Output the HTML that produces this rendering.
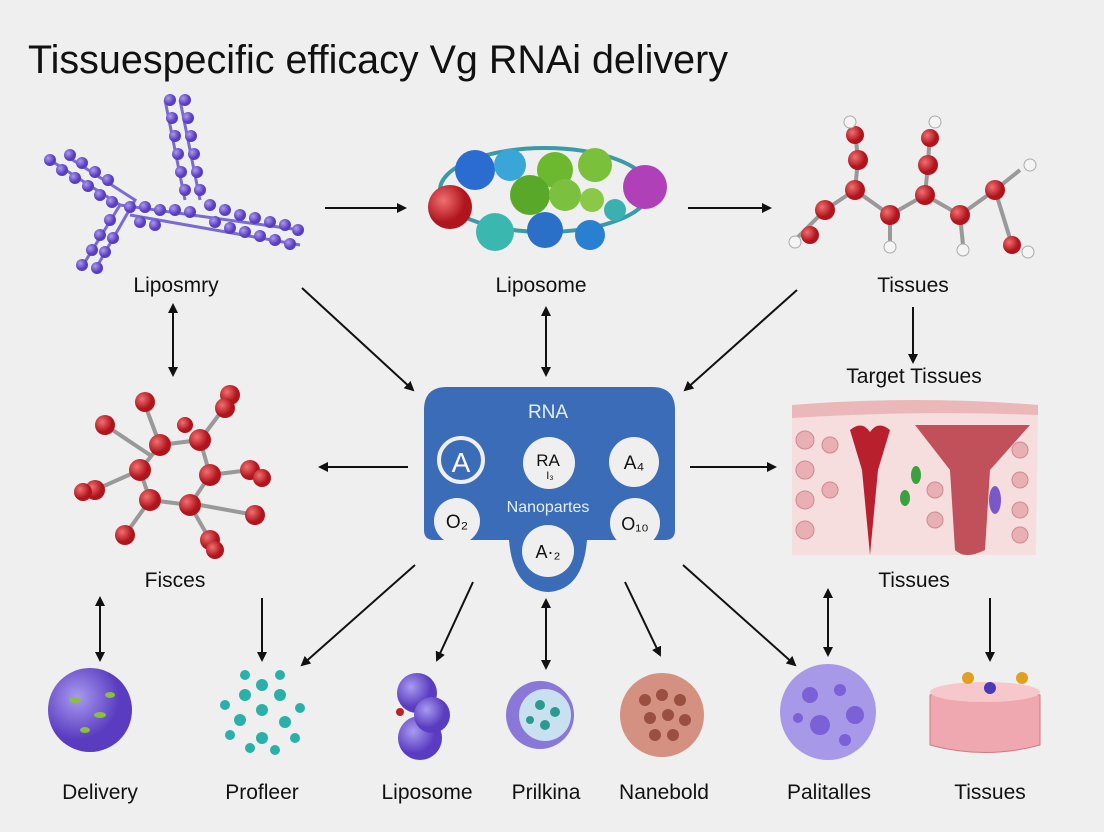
<!DOCTYPE html>
<html><head><style>
html,body{margin:0;padding:0;background:#efefef;}
svg{display:block;font-family:"Liberation Sans",sans-serif;}
</style></head><body>
<svg width="1104" height="832" viewBox="0 0 1104 832" xmlns="http://www.w3.org/2000/svg">
<defs>
<marker id="a" markerWidth="10" markerHeight="10" refX="8" refY="5" orient="auto" markerUnits="userSpaceOnUse"><path d="M0,0 L10,5 L0,10 z" fill="#111"/></marker>
<marker id="s" markerWidth="10" markerHeight="10" refX="2" refY="5" orient="auto" markerUnits="userSpaceOnUse"><path d="M10,0 L0,5 L10,10 z" fill="#111"/></marker>
<radialGradient id="rd" cx="35%" cy="35%"><stop offset="0" stop-color="#f07070"/><stop offset="1" stop-color="#b0141c"/></radialGradient>
<radialGradient id="pu" cx="35%" cy="35%"><stop offset="0" stop-color="#a99af0"/><stop offset="1" stop-color="#5a3cc0"/></radialGradient>
</defs>
<rect width="1104" height="832" fill="#efefef"/>
<text x="28" y="73" font-size="40" fill="#111" textLength="700" lengthAdjust="spacingAndGlyphs">Tissuespecific efficacy Vg RNAi delivery</text>

<!-- top-left purple chain -->
<g fill="url(#pu)">
<g stroke="#7b6ad0" stroke-width="3" fill="none">
<path d="M50,160 L120,205 L80,270"/><path d="M65,155 L135,200 L95,270"/>
<path d="M120,205 L300,230"/><path d="M130,215 L300,245"/>
<path d="M165,100 L185,200"/><path d="M180,100 L200,200"/>
</g>
<circle cx="50" cy="160" r="6"/><circle cx="62" cy="170" r="6"/><circle cx="75" cy="178" r="6"/><circle cx="88" cy="186" r="6"/><circle cx="100" cy="195" r="6"/><circle cx="112" cy="202" r="6"/>
<circle cx="70" cy="155" r="6"/><circle cx="82" cy="163" r="6"/><circle cx="95" cy="172" r="6"/><circle cx="108" cy="180" r="6"/>
<circle cx="110" cy="220" r="6"/><circle cx="100" cy="235" r="6"/><circle cx="92" cy="250" r="6"/><circle cx="82" cy="265" r="6"/><circle cx="97" cy="268" r="6"/><circle cx="105" cy="252" r="6"/><circle cx="113" cy="238" r="6"/>
<circle cx="170" cy="100" r="6"/><circle cx="185" cy="100" r="6"/><circle cx="172" cy="118" r="6"/><circle cx="188" cy="118" r="6"/><circle cx="175" cy="136" r="6"/><circle cx="191" cy="136" r="6"/><circle cx="178" cy="154" r="6"/><circle cx="194" cy="154" r="6"/><circle cx="181" cy="172" r="6"/><circle cx="197" cy="172" r="6"/><circle cx="185" cy="190" r="6"/><circle cx="200" cy="190" r="6"/>
<circle cx="130" cy="207" r="6"/><circle cx="145" cy="207" r="6"/><circle cx="160" cy="210" r="6"/><circle cx="175" cy="210" r="6"/><circle cx="190" cy="212" r="6"/><circle cx="210" cy="205" r="6"/><circle cx="225" cy="210" r="6"/><circle cx="240" cy="215" r="6"/><circle cx="255" cy="218" r="6"/><circle cx="270" cy="222" r="6"/><circle cx="285" cy="225" r="6"/><circle cx="298" cy="230" r="6"/>
<circle cx="215" cy="222" r="6"/><circle cx="230" cy="228" r="6"/><circle cx="245" cy="232" r="6"/><circle cx="260" cy="236" r="6"/><circle cx="275" cy="240" r="6"/><circle cx="290" cy="244" r="6"/><circle cx="140" cy="222" r="6"/><circle cx="155" cy="225" r="6"/>
</g>

<!-- top-middle molecule -->
<g>
<ellipse cx="545" cy="190" rx="105" ry="42" fill="none" stroke="#3a9aa8" stroke-width="4"/>
<circle cx="475" cy="170" r="20" fill="#2a6ccf"/><circle cx="510" cy="165" r="16" fill="#3aa6d8"/>
<circle cx="555" cy="170" r="18" fill="#6cb82e"/><circle cx="595" cy="165" r="17" fill="#7ac03a"/>
<circle cx="530" cy="195" r="20" fill="#5aa82a"/><circle cx="565" cy="195" r="16" fill="#7cc040"/>
<circle cx="645" cy="187" r="22" fill="#b040b8"/><circle cx="592" cy="200" r="12" fill="#8ac848"/>
<circle cx="450" cy="207" r="22" fill="url(#rd)"/>
<circle cx="495" cy="232" r="19" fill="#3ab8b0"/><circle cx="545" cy="230" r="18" fill="#2a70c8"/><circle cx="590" cy="235" r="15" fill="#2a80d0"/><circle cx="615" cy="210" r="11" fill="#3ab0b0"/>
</g>

<!-- top-right molecule -->
<g stroke="#999" stroke-width="4" fill="none">
<path d="M795,240 L825,210 L855,190 L890,215 L925,195 L960,215 L995,190 L1020,170"/>
<path d="M855,190 L858,160 L855,130"/><path d="M925,195 L928,165 L930,130"/><path d="M890,215 L890,245"/><path d="M960,215 L963,245"/><path d="M995,190 L1012,245"/>
</g>
<g fill="url(#rd)">
<circle cx="825" cy="210" r="10"/><circle cx="855" cy="190" r="10"/><circle cx="890" cy="215" r="10"/><circle cx="925" cy="195" r="10"/><circle cx="960" cy="215" r="10"/><circle cx="995" cy="190" r="10"/><circle cx="858" cy="160" r="10"/><circle cx="928" cy="165" r="10"/><circle cx="855" cy="135" r="9"/><circle cx="930" cy="138" r="9"/><circle cx="1012" cy="245" r="9"/><circle cx="810" cy="235" r="9"/>
</g>
<g fill="#f4f4f4" stroke="#aaa"><circle cx="850" cy="122" r="6"/><circle cx="935" cy="122" r="6"/><circle cx="795" cy="242" r="6"/><circle cx="890" cy="247" r="6"/><circle cx="963" cy="250" r="6"/><circle cx="1030" cy="165" r="6"/><circle cx="1028" cy="252" r="6"/></g>

<!-- left-middle molecule -->
<g stroke="#999" stroke-width="4" fill="none">
<path d="M160,445 L200,440 L210,475 L190,505 L150,500 L140,470 Z"/>
<path d="M160,445 L145,405"/><path d="M200,440 L230,400"/><path d="M210,475 L250,470"/><path d="M190,505 L210,540"/><path d="M150,500 L125,535"/><path d="M140,470 L95,490"/><path d="M150,455 L105,425"/><path d="M200,505 L255,515"/>
</g>
<g fill="url(#rd)">
<circle cx="160" cy="445" r="11"/><circle cx="200" cy="440" r="11"/><circle cx="210" cy="475" r="11"/><circle cx="190" cy="505" r="11"/><circle cx="150" cy="500" r="11"/><circle cx="140" cy="470" r="11"/>
<circle cx="145" cy="402" r="10"/><circle cx="230" cy="395" r="10"/><circle cx="225" cy="408" r="10"/><circle cx="250" cy="470" r="10"/><circle cx="262" cy="478" r="9"/><circle cx="210" cy="540" r="10"/><circle cx="215" cy="550" r="9"/><circle cx="125" cy="535" r="10"/><circle cx="95" cy="490" r="10"/><circle cx="83" cy="492" r="9"/><circle cx="105" cy="425" r="10"/><circle cx="255" cy="515" r="10"/><circle cx="185" cy="425" r="8"/>
</g>

<!-- central box -->
<path d="M447,387 H652 Q675,387 675,410 V530 Q675,540 665,540 H587 Q583,590 548,592 Q513,590 509,540 H434 Q424,540 424,530 V410 Q424,387 447,387 Z" fill="#3a6cb8"/>
<text x="548" y="418" font-size="19" fill="#e8eef8" text-anchor="middle">RNA</text>
<text x="548" y="512" font-size="16" fill="#e8eef8" text-anchor="middle">Nanopartes</text>
<g fill="#efefef">
<circle cx="461" cy="460" r="22" fill="none" stroke="#efefef" stroke-width="4"/>
<circle cx="549" cy="463" r="26"/><circle cx="634" cy="462" r="25"/>
<circle cx="457" cy="521" r="23"/><circle cx="635" cy="523" r="25"/><circle cx="548" cy="551" r="26"/>
</g>
<text x="461" y="472" font-size="28" fill="#fff" text-anchor="middle">A</text>
<text x="548" y="466" font-size="17" fill="#111" text-anchor="middle">RA</text>
<text x="550" y="479" font-size="11" fill="#111" text-anchor="middle">I₃</text>
<text x="634" y="469" font-size="19" fill="#111" text-anchor="middle">A₄</text>
<text x="457" y="528" font-size="19" fill="#111" text-anchor="middle">O₂</text>
<text x="635" y="530" font-size="18" fill="#111" text-anchor="middle">O₁₀</text>
<text x="548" y="558" font-size="18" fill="#111" text-anchor="middle">A·₂</text>

<!-- tissue block -->
<g>
<path d="M792,405 Q915,395 1038,405 L1036,555 L792,555 Z" fill="#f6dede"/>
<path d="M792,405 Q915,395 1038,405 L1038,415 Q915,410 792,418 Z" fill="#eab8b8"/>
<path d="M850,430 Q862,420 870,432 Q878,420 890,430 L878,470 L870,555 L862,470 Z" fill="#b8202e"/>
<path d="M915,425 L1030,425 L990,470 L985,550 Q965,560 955,550 L950,470 Z" fill="#c0505a"/>
<g fill="#e8b0b4" stroke="#d08890"><circle cx="805" cy="440" r="9"/><circle cx="805" cy="470" r="9"/><circle cx="805" cy="500" r="9"/><circle cx="805" cy="530" r="9"/><circle cx="830" cy="445" r="8"/><circle cx="830" cy="490" r="8"/><circle cx="935" cy="490" r="8"/><circle cx="935" cy="520" r="8"/><circle cx="1020" cy="450" r="8"/><circle cx="1020" cy="480" r="8"/><circle cx="1020" cy="510" r="8"/><circle cx="1020" cy="535" r="8"/></g>
<ellipse cx="916" cy="475" rx="5" ry="9" fill="#3aa040"/><ellipse cx="905" cy="498" rx="5" ry="8" fill="#3aa040"/>
<ellipse cx="995" cy="500" rx="6" ry="14" fill="#7a58c8"/>
</g>

<!-- bottom row icons -->
<circle cx="90" cy="710" r="42" fill="url(#pu)"/>
<g fill="#8ac040"><ellipse cx="75" cy="700" rx="6" ry="3"/><ellipse cx="100" cy="715" rx="6" ry="3"/><ellipse cx="85" cy="730" rx="5" ry="3"/><ellipse cx="110" cy="695" rx="5" ry="3"/></g>
<g fill="#2ab0a8"><circle cx="262" cy="710" r="6"/><circle cx="245" cy="695" r="6"/><circle cx="280" cy="695" r="6"/><circle cx="240" cy="720" r="6"/><circle cx="285" cy="722" r="6"/><circle cx="262" cy="685" r="6"/><circle cx="262" cy="738" r="6"/><circle cx="225" cy="705" r="5"/><circle cx="300" cy="708" r="5"/><circle cx="230" cy="735" r="5"/><circle cx="295" cy="738" r="5"/><circle cx="245" cy="675" r="5"/><circle cx="280" cy="675" r="5"/><circle cx="250" cy="748" r="5"/><circle cx="275" cy="750" r="5"/></g>
<circle cx="417" cy="693" r="20" fill="url(#pu)"/><circle cx="420" cy="738" r="22" fill="url(#pu)"/><circle cx="432" cy="715" r="18" fill="url(#pu)"/>
<circle cx="400" cy="712" r="4" fill="#c02020"/>
<circle cx="540" cy="715" r="34" fill="#8a78d8"/><circle cx="545" cy="715" r="26" fill="#c8e0f0"/>
<g fill="#2a9a90"><circle cx="540" cy="705" r="5"/><circle cx="555" cy="712" r="5"/><circle cx="545" cy="725" r="5"/><circle cx="530" cy="720" r="4"/></g>
<circle cx="662" cy="715" r="42" fill="#d49080"/>
<g fill="#9a5040"><circle cx="645" cy="700" r="6"/><circle cx="662" cy="695" r="6"/><circle cx="680" cy="700" r="6"/><circle cx="650" cy="718" r="6"/><circle cx="668" cy="715" r="6"/><circle cx="685" cy="720" r="6"/><circle cx="655" cy="735" r="6"/><circle cx="673" cy="735" r="6"/></g>
<circle cx="828" cy="712" r="48" fill="#a898e8"/>
<g fill="#7c60d8"><circle cx="810" cy="695" r="8"/><circle cx="840" cy="690" r="6"/><circle cx="855" cy="715" r="9"/><circle cx="820" cy="725" r="10"/><circle cx="845" cy="740" r="6"/><circle cx="798" cy="718" r="5"/></g>
<path d="M930,695 Q985,680 1040,695 L1040,745 Q985,760 930,745 Z" fill="#f0a8b0" stroke="#d07880"/>
<ellipse cx="985" cy="692" rx="55" ry="10" fill="#f6c8cc"/>
<circle cx="968" cy="678" r="6" fill="#e0a020"/><circle cx="1022" cy="678" r="6" fill="#e0a020"/><circle cx="990" cy="688" r="6" fill="#4a3ab8"/>

<!-- arrows -->
<g stroke="#111" stroke-width="2" fill="none" marker-end="url(#a)">
<line x1="325" y1="208" x2="405" y2="208"/><line x1="688" y1="208" x2="770" y2="208"/>
<line x1="302" y1="288" x2="413" y2="390"/><line x1="797" y1="290" x2="685" y2="390"/>
<line x1="913" y1="307" x2="913" y2="362"/>
<line x1="408" y1="467" x2="320" y2="467"/><line x1="690" y1="467" x2="775" y2="467"/>
<line x1="262" y1="598" x2="262" y2="660"/>
<line x1="415" y1="565" x2="302" y2="665"/><line x1="473" y1="582" x2="437" y2="660"/>
<line x1="625" y1="582" x2="660" y2="655"/><line x1="683" y1="565" x2="795" y2="665"/>
<line x1="990" y1="598" x2="990" y2="660"/>
</g>
<g stroke="#111" stroke-width="2" fill="none" marker-end="url(#a)" marker-start="url(#s)">
<line x1="173" y1="305" x2="173" y2="375"/><line x1="546" y1="308" x2="546" y2="375"/>
<line x1="100" y1="598" x2="100" y2="660"/><line x1="546" y1="600" x2="546" y2="668"/>
<line x1="828" y1="590" x2="828" y2="655"/>
</g>

<!-- labels -->
<g font-size="21" fill="#111" text-anchor="middle">
<text x="176" y="292">Liposmry</text><text x="541" y="292">Liposome</text><text x="913" y="292">Tissues</text>
<text x="914" y="383">Target Tissues</text>
<text x="175" y="587">Fisces</text><text x="914" y="587">Tissues</text>
<text x="100" y="799">Delivery</text><text x="262" y="799">Profleer</text><text x="427" y="799">Liposome</text><text x="546" y="799">Prilkina</text><text x="664" y="799">Nanebold</text><text x="829" y="799">Palitalles</text><text x="990" y="799">Tissues</text>
</g>
</svg>
</body></html>
